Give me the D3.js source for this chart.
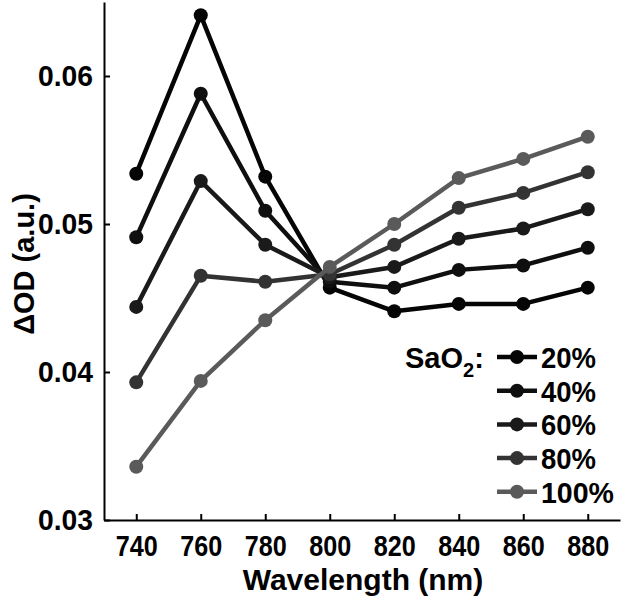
<!DOCTYPE html>
<html>
<head>
<meta charset="utf-8">
<script src="https://cdn.jsdelivr.net/npm/d3@7"></script>
<style>
  body { margin: 0; background: #fff; }
  text { font-family: "Liberation Sans", Arial, sans-serif; font-weight: bold; }
</style>
</head>
<body>
<div id="chart"></div>
<script>
// data
const wavelengths = [740, 760, 780, 800, 820, 840, 860, 880];
const saturations = ['20%', '40%', '60%', '80%', '100%'];
const od20 = [0.0534, 0.0641, 0.0532, 0.0457, 0.0441, 0.0446, 0.0446, 0.0457];
const od40 = [0.0491, 0.0588, 0.0509, 0.0461, 0.0457, 0.0469, 0.0472, 0.0484];
const od60 = [0.0444, 0.0529, 0.0486, 0.0464, 0.0471, 0.0490, 0.0497, 0.0510];
const od80 = [0.0393, 0.0465, 0.0461, 0.0466, 0.0486, 0.0511, 0.0521, 0.0535];
const od100 = [0.0336, 0.0394, 0.0435, 0.0471, 0.0500, 0.0531, 0.0544, 0.0559];
const yTicks = [0.03, 0.04, 0.05, 0.06];
const greys = ['#050505', '#0f0f0f', '#1a1a1a', '#333333', '#5a5a5a'];

const width = 625, height = 604;
const series = [od20, od40, od60, od80, od100].map((vals, i) => ({
  name: saturations[i],
  color: greys[i],
  values: vals.map((v, j) => ({ x: wavelengths[j], y: v }))
}));

const svg = d3.select('#chart').append('svg')
  .attr('width', width).attr('height', height);

const x = d3.scaleLinear().domain([730, 890]).range([104, 620]);
const y = d3.scaleLinear().domain([0.03, 0.065]).range([520, 2]);

// axes, ticks pointing inward
const xAxis = svg.append('g')
  .attr('transform', 'translate(0,520)')
  .call(d3.axisBottom(x).tickValues(wavelengths).tickFormat(d3.format('d'))
    .tickSizeInner(-6).tickSizeOuter(0).tickPadding(15));
const yAxis = svg.append('g')
  .attr('transform', 'translate(104,0)')
  .call(d3.axisLeft(y).tickValues(yTicks).tickFormat(d3.format('.2f'))
    .tickSizeInner(-6).tickSizeOuter(0).tickPadding(11));

[xAxis, yAxis].forEach(g => {
  g.select('.domain').attr('stroke', '#000').attr('stroke-width', 2);
  g.selectAll('.tick line').attr('stroke', '#000').attr('stroke-width', 2);
  g.selectAll('.tick text').attr('fill', '#000').style('font-size', '30px')
    .attr('lengthAdjust', 'spacingAndGlyphs');
});
xAxis.selectAll('.tick text').attr('dy', '0.71em').attr('textLength', 42);
yAxis.selectAll('.tick text').attr('textLength', 55);

svg.append('text')
  .attr('x', 363).attr('y', 590)
  .attr('text-anchor', 'middle')
  .style('font-size', '30px')
  .text('Wavelength (nm)');

svg.append('text')
  .attr('transform', 'translate(34,264) rotate(-90)')
  .attr('text-anchor', 'middle')
  .style('font-size', '29px')
  .text('\u0394OD (a.u.)');

const line = d3.line().x(d => x(d.x)).y(d => y(d.y));

const groups = svg.append('g').selectAll('g')
  .data(series).enter().append('g');

groups.append('path')
  .attr('d', d => line(d.values))
  .attr('fill', 'none')
  .attr('stroke', d => d.color)
  .attr('stroke-width', 4.5)
  .attr('stroke-linejoin', 'round');

groups.selectAll('circle')
  .data(d => d.values.map(v => ({ ...v, color: d.color })))
  .enter().append('circle')
  .attr('cx', d => x(d.x))
  .attr('cy', d => y(d.y))
  .attr('r', 7)
  .attr('fill', d => d.color);

// legend
const legend = svg.append('g');
const title = legend.append('text')
  .attr('x', 405).attr('y', 368)
  .style('font-size', '29px');
title.append('tspan').text('SaO');
title.append('tspan').attr('dy', 9).style('font-size', '20px').text('2');
title.append('tspan').attr('dy', -9).text(':');

const rows = legend.selectAll('g.row')
  .data(series).enter().append('g')
  .attr('class', 'row')
  .attr('transform', (d, i) => 'translate(0,' + (357 + i * 33.7) + ')');

rows.append('line')
  .attr('x1', 497).attr('x2', 537)
  .attr('stroke', d => d.color).attr('stroke-width', 4.5);
rows.append('circle')
  .attr('cx', 517).attr('r', 7)
  .attr('fill', d => d.color);
rows.append('text')
  .attr('x', 541).attr('y', 11)
  .attr('lengthAdjust', 'spacingAndGlyphs')
  .attr('textLength', d => d.name.length === 4 ? 73 : 55)
  .style('font-size', '30px')
  .text(d => d.name);
</script>
</body>
</html>
